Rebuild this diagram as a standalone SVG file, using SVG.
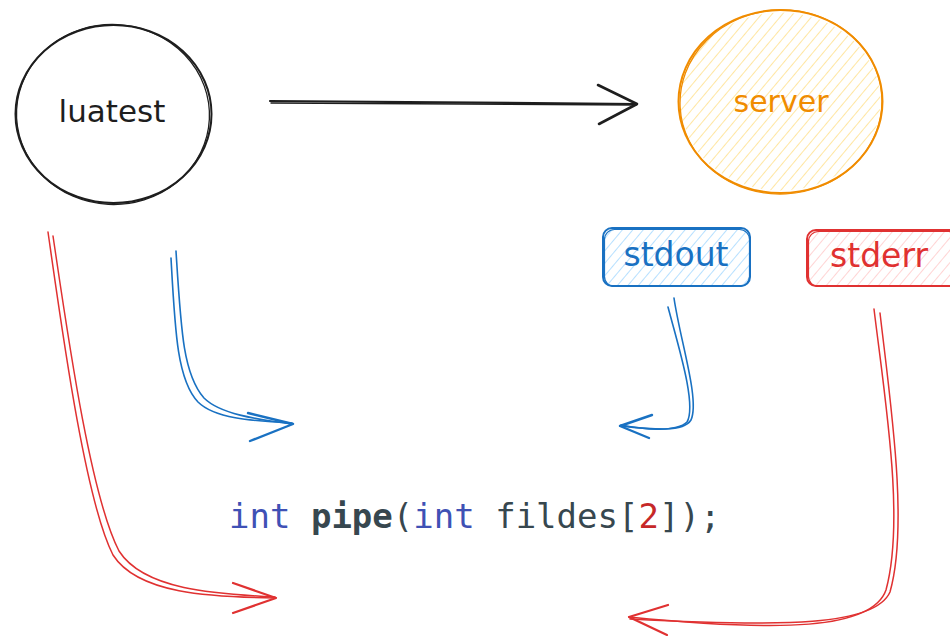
<svg xmlns="http://www.w3.org/2000/svg" width="950" height="636" viewBox="0 0 950 636">
  <defs>
    <!-- hachure fills, rough.js style -->
    <pattern id="hatch-yellow" patternUnits="userSpaceOnUse" width="8" height="10" patternTransform="rotate(40)">
      <line x1="0" y1="0" x2="0" y2="10" stroke="#ffe08a" stroke-width="1.6"/>
    </pattern>
    <pattern id="hatch-blue" patternUnits="userSpaceOnUse" width="8" height="10" patternTransform="rotate(40)">
      <line x1="0" y1="0" x2="0" y2="10" stroke="#a5d8ff" stroke-width="1.6"/>
    </pattern>
    <pattern id="hatch-red" patternUnits="userSpaceOnUse" width="8" height="10" patternTransform="rotate(40)">
      <line x1="0" y1="0" x2="0" y2="10" stroke="#ffc9c9" stroke-width="1.6"/>
    </pattern>
  </defs>
  <style>
    .sketch { fill: none; stroke-linecap: round; stroke-linejoin: round; }
    .hand { font-family: "DejaVu Sans", "Noto Sans", sans-serif; text-anchor: middle; }
    .black { stroke: #1e1e1e; }
    .orange { stroke: #f08c00; }
    .blue { stroke: #1971c2; }
    .red { stroke: #e03131; }
    .code { font-family: "DejaVu Sans Mono", "Liberation Mono", monospace; font-size: 34px; fill: #37474f; }
    .kw { fill: #3f51b5; }
    .num { fill: #c62828; }
  </style>

  <rect width="950" height="636" fill="#ffffff"/>

  <g id="luatest">
    <ellipse cx="113.5" cy="114" rx="98" ry="89" class="sketch black" stroke-width="2"/>
    <ellipse cx="113" cy="114.5" rx="96.5" ry="90" transform="rotate(3 113 114)" class="sketch black" stroke-width="1.3"/>
    <text x="112" y="122" class="hand" font-size="31" fill="#1e1e1e">luatest</text>
  </g>

  <g id="server">
    <ellipse cx="780.5" cy="101.5" rx="100" ry="89" fill="url(#hatch-yellow)"/>
    <ellipse cx="780.5" cy="101.5" rx="102" ry="91.5" class="sketch orange" stroke-width="2"/>
    <ellipse cx="781" cy="102" rx="101" ry="92" transform="rotate(-3 781 102)" class="sketch orange" stroke-width="1.3"/>
    <text x="781" y="112" class="hand" font-size="30" fill="#f08c00">server</text>
  </g>

  <g id="stdout">
    <rect x="604" y="229" width="145" height="57" rx="9" fill="url(#hatch-blue)"/>
    <rect x="603" y="228" width="147" height="58" rx="9" class="sketch blue" stroke-width="2"/>
    <rect x="604.5" y="229.5" width="145" height="57" rx="10" class="sketch blue" stroke-width="1.2"/>
    <text x="676" y="266" class="hand" font-size="33" fill="#1971c2">stdout</text>
  </g>

  <g id="stderr">
    <rect x="808" y="231" width="150" height="55" rx="9" fill="url(#hatch-red)"/>
    <rect x="807" y="230" width="152" height="56" rx="9" class="sketch red" stroke-width="2"/>
    <rect x="808.5" y="231.5" width="150" height="55" rx="10" class="sketch red" stroke-width="1.2"/>
    <text x="879" y="267" class="hand" font-size="33" fill="#e03131">stderr</text>
  </g>

  <g id="connectors">
    <!-- luatest to server -->
    <path d="M270 101 L637 104" class="sketch black" stroke-width="2.2"/>
    <path d="M271 103 L636 105" class="sketch black" stroke-width="1.4"/>
    <path d="M598 85 L637 104 L599 124" class="sketch black" stroke-width="2.6"/>

    <!-- luatest stdout -->
    <path d="M171 258 C175 330 177 380 198 402 C214 418 250 421 292 423" class="sketch blue" stroke-width="1.6"/>
    <path d="M176 251 C181 330 183 374 204 398 C220 414 255 419 292 424" class="sketch blue" stroke-width="1.6"/>
    <path d="M248 413 L293 424 L250 441" class="sketch blue" stroke-width="2.4"/>

    <!-- luatest stderr -->
    <path d="M48 232 C62 330 85 500 113 555 C138 594 210 597 275 598" class="sketch red" stroke-width="1.5"/>
    <path d="M53 236 C67 330 90 495 119 551 C144 590 215 594 275 597" class="sketch red" stroke-width="1.5"/>
    <path d="M233 583 L276 598 L233 613" class="sketch red" stroke-width="2.2"/>

    <!-- server stdout -->
    <path d="M674 298 C680 340 700 400 691 420 C683 433 650 429 620 426" class="sketch blue" stroke-width="1.6"/>
    <path d="M668 307 C678 345 697 405 687 422 C677 432 645 430 621 425" class="sketch blue" stroke-width="1.6"/>
    <path d="M652 415 L620 426 L649 438" class="sketch blue" stroke-width="2.4"/>

    <!-- server stderr -->
    <path d="M874 309 C885 400 905 520 886 590 C872 630 780 632 629 617" class="sketch red" stroke-width="1.5"/>
    <path d="M880 313 C890 400 909 525 890 592 C875 626 785 627 630 619" class="sketch red" stroke-width="1.5"/>
    <path d="M668 605 L629 617 L667 635" class="sketch red" stroke-width="2.2"/>
  </g>

  <g id="code">
    <text x="229" y="528" class="code"><tspan class="kw">int</tspan> <tspan font-weight="bold">pipe</tspan>(<tspan class="kw">int</tspan> fildes[<tspan class="num">2</tspan>]);</text>
  </g>
</svg>
